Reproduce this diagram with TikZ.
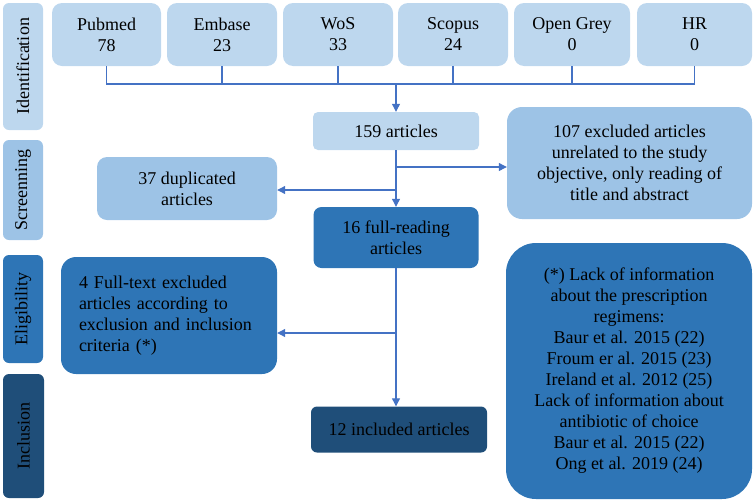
\documentclass[tikz,border=0pt]{standalone}
\usepackage{fontspec}
\setmainfont{Liberation Serif}
\usetikzlibrary{arrows.meta}
\definecolor{c1}{HTML}{BDD7EE}
\definecolor{c2}{HTML}{9DC3E6}
\definecolor{c3}{HTML}{2E75B6}
\definecolor{c4}{HTML}{1F4E79}
\definecolor{arr}{HTML}{4472C4}
\tikzset{
  box/.style={draw=none, align=center, inner sep=0pt, font=\fontsize{18}{21}\selectfont, text=black},
  side/.style={box, rotate=90},
  conn/.style={draw=arr, line width=1.1pt},
  arrowc/.style={conn, -{Triangle[length=8pt,width=8pt]}},
}
\begin{document}
\begin{tikzpicture}[x=1pt,y=-1pt]
\useasboundingbox (0,0) rectangle (754,501);
% side labels
\node[side, fill=c1, rounded corners=6pt, minimum width=127pt, minimum height=40pt] (sid) at (23,66.5) {Identification};
\node[side, fill=c2, rounded corners=6pt, minimum width=100pt, minimum height=40pt] (sscr) at (23,190) {Screenning};
\node[side, fill=c3, rounded corners=6pt, minimum width=108pt, minimum height=40pt] (selig) at (23,309) {Eligibility};
\node[side, fill=c4, rounded corners=6pt, minimum width=124pt, minimum height=41pt] (sinc) at (23.5,436) {Inclusion};
% top boxes
\node[box, fill=c1, rounded corners=10pt, minimum width=109pt, minimum height=63pt] (pub) at (106.5,34.5) {Pubmed\\78};
\node[box, fill=c1, rounded corners=10pt, minimum width=110pt, minimum height=63pt] (emb) at (222,34.5) {Embase\\23};
\node[box, fill=c1, rounded corners=10pt, minimum width=110pt, minimum height=63pt] (wos) at (338,34.5) {WoS\\33};
\node[box, fill=c1, rounded corners=10pt, minimum width=110pt, minimum height=63pt] (sco) at (453,34.5) {Scopus\\24};
\node[box, fill=c1, rounded corners=10pt, minimum width=116pt, minimum height=63pt] (ogr) at (572,34.5) {Open Grey\\0};
\node[box, fill=c1, rounded corners=10pt, minimum width=115pt, minimum height=63pt] (hr) at (694.5,34.5) {HR\\0};
% flow boxes
\node[box, fill=c1, rounded corners=5pt, minimum width=166pt, minimum height=38pt] (a159) at (396,131) {159 articles};
\node[box, fill=c2, rounded corners=15pt, minimum width=245pt, minimum height=112pt] (ex107) at (629.5,163) {107 excluded articles\\unrelated to the study\\objective, only reading of\\title and abstract};
\node[box, fill=c2, rounded corners=10pt, minimum width=180pt, minimum height=63pt] (dup) at (187,188.5) {37 duplicated\\articles};
\node[box, fill=c3, rounded corners=8pt, minimum width=165pt, minimum height=61pt] (f16) at (396,237.5) {16 full-reading\\articles};
\node[box, fill=c3, rounded corners=15pt, minimum width=216pt, minimum height=117pt, text width=180pt, align=left] (ft4) at (169,315.5) {4 Full-text excluded\\articles according to\\exclusion and inclusion\\criteria (*)};
\node[box, fill=c4, rounded corners=6pt, minimum width=176pt, minimum height=46pt] (inc12) at (399,429.5) {12 included articles};
\node[box, fill=c3, rounded corners=30pt, minimum width=246pt, minimum height=256pt] (lack) at (629,371) {(*) Lack of information\\about the prescription\\regimens:\\Baur et al. 2015 (22)\\Froum er al. 2015 (23)\\Ireland et al. 2012 (25)\\Lack of information about\\antibiotic of choice\\Baur et al. 2015 (22)\\Ong et al. 2019 (24)};
% connectors
\coordinate (m) at (396,84);
\draw[conn] (pub.south) |- (m) -| (hr.south);
\draw[conn] (emb.south) -- (emb.south |- m);
\draw[conn] (wos.south) -- (wos.south |- m);
\draw[conn] (sco.south) -- (sco.south |- m);
\draw[conn] (ogr.south) -- (ogr.south |- m);
\draw[arrowc] (m) -- (a159.north);
\draw[arrowc] (a159.south) -- (f16.north);
\coordinate (b1) at (396,167);
\draw[arrowc] (b1) -- (b1 -| ex107.west);
\coordinate (b2) at (396,190);
\draw[arrowc] (b2) -- (b2 -| dup.east);
\draw[arrowc] (f16.south) -- (f16.south |- inc12.north);
\coordinate (b3) at (396,333);
\draw[arrowc] (b3) -- (b3 -| ft4.east);
\end{tikzpicture}
\end{document}
